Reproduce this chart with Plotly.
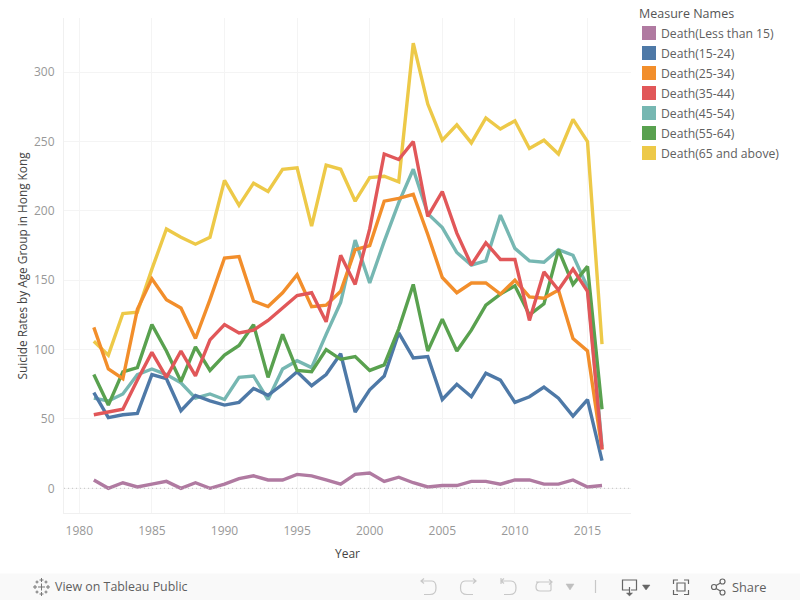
import plotly.graph_objects as go

years = list(range(1981, 2017))
under15 = [6,0,4,1,3,5,0,4,0,3,7,9,6,6,10,9,6,3,10,11,5,8,4,1,2,2,5,5,3,6,6,3,3,6,1,2]
age15_24 = [69,51,53,54,82,79,56,67,63,60,62,72,67,75,84,74,82,97,55,71,81,112,94,95,64,75,66,83,78,62,66,73,65,52,64,20]
age25_34 = [116,86,79,129,151,136,130,108,136,166,167,135,131,141,154,131,132,142,172,175,207,209,212,183,152,141,148,148,140,150,138,137,143,108,99,28]
age35_44 = [53,55,57,78,98,80,99,81,107,118,112,114,121,130,139,141,120,168,147,187,241,237,250,196,214,184,161,177,165,165,121,156,143,158,142,28]
age45_54 = [65,63,68,82,86,82,76,65,68,64,80,81,64,86,92,87,111,134,179,148,178,206,230,198,188,170,161,164,197,173,164,163,172,168,145,30]
age55_64 = [82,60,84,87,118,99,77,102,85,96,103,118,80,111,85,84,100,93,95,85,89,115,147,99,122,99,114,132,140,146,125,133,172,147,160,57]
age65_up = [106,96,126,127,158,187,181,176,181,222,204,220,214,230,231,189,233,230,207,224,225,221,321,277,251,262,249,267,259,265,245,251,241,266,250,104]

names = ["Death(Less than 15)","Death(15-24)","Death(25-34)","Death(35-44)","Death(45-54)","Death(55-64)","Death(65 and above)"]
series = [under15, age15_24, age25_34, age35_44, age45_54, age55_64, age65_up]
colors = ["#B07AA1","#4E79A7","#F28E2B","#E15759","#76B7B2","#59A14F","#EDC948"]
draw_order = [0,6,4,1,5,2,3]

W, H = 800, 600
L, R, T, B = 64, 631, 18, 513
FONT = "Open Sans"

def px(x): return x / W
def py(y): return 1 - y / H

def path(d, color, width=1.2, fill=None):
    out = []
    for tok in d.split():
        if "," in tok:
            a, b = tok.split(",")
            out.append(f"{px(float(a)):.5f},{py(float(b)):.5f}")
        else:
            out.append(tok)
    s = dict(type="path", xref="paper", yref="paper", path=" ".join(out),
             line=dict(color=color, width=width))
    if fill:
        s["fillcolor"] = fill
    return s

fig = go.Figure()
for i in draw_order:
    fig.add_trace(go.Scatter(x=years, y=series[i], mode="lines", name=names[i],
                             line=dict(color=colors[i], width=3.4, shape="linear"),
                             showlegend=False))

shapes = []
ann = []

def text(x, y, s, size=11, color="#555555", anchor="left", angle=0, font=FONT):
    ann.append(dict(xref="paper", yref="paper", x=px(x), y=py(y), text=s, showarrow=False,
                    xanchor=anchor, yanchor="middle", textangle=angle, borderpad=0, borderwidth=0,
                    font=dict(family=font, size=size, color=color)))

# zero line
shapes.append(dict(type="line", xref="paper", yref="y", x0=px(L), x1=px(R), y0=0, y1=0,
                   line=dict(color="#c4c4c4", width=1, dash="1px,3px")))

# legend
text(639, 14, "Measure Names", size=12.5, color="#555555")
for i, n in enumerate(names):
    y = 33 + 20 * i
    shapes.append(dict(type="rect", xref="paper", yref="paper", x0=px(642), x1=px(656),
                       y0=py(y - 7), y1=py(y + 7), fillcolor=colors[i], line=dict(width=0)))
    text(661, y + 0.5, n, size=12.2, color="#606060")

# axis titles
text(347, 553.5, "Year", size=12, color="#444444", anchor="center")
text(21, 265.5, "Suicide Rates by Age Group in Hong Kong", size=11.8, color="#444444", anchor="center", angle=-90)

# toolbar
shapes.append(dict(type="rect", xref="paper", yref="paper", x0=0, x1=1, y0=0, y1=py(573.5),
                   fillcolor="#F9F9F9", line=dict(width=0), layer="below"))
text(55, 586.5, "View on Tableau Public", size=12.4, color="#5f5f5f")
text(732, 586.5, "Share", size=12.8, color="#5f5f5f")

# logo
logo = [(41.5,587,3.5),(41.5,580,2),(41.5,594,2),(35,587,2),(48,587,2),(37,582,1.5),(46,582,1.5),(37,592,1.5),(46,592,1.5)]
for x, y, r in logo:
    shapes.append(path(f"M {x-r},{y} L {x+r},{y} M {x},{y-r} L {x},{y+r}", "#777777", 1))

G = "#c8c8c8"
D = "#666666"
shapes.append(path("M 421,581 L 432,581 Q 436,581 436,588 Q 436,594.5 430,594.5 L 424,594.5 M 424,578.5 L 421,581 L 424,583.5", G))
shapes.append(path("M 476,581 L 465,581 Q 460.5,581 460.5,588 Q 460.5,594.5 467,594.5 L 473,594.5 M 473,578.5 L 476,581 L 473,583.5", G))
shapes.append(path("M 501,578 L 501,584 M 501,581 L 511,581 Q 516,581 516,588 Q 516,594.5 510,594.5 L 504,594.5 M 504,578.5 L 501,581 L 504,583.5", G))
shapes.append(path("M 536,582 L 551,582 L 551,590 Q 551,591 549,591 L 540,591 Q 536,591 536,587 Q 536,582 540,582 M 549,579.5 L 552,582 L 549,584.5", G))
shapes.append(path("M 566,584 L 574,584 L 570,590 Z", "#c0c0c0", 0.5, "#c0c0c0"))
shapes.append(path("M 595.5,580 L 595.5,593", "#c8c8c8"))
shapes.append(path("M 629,590 L 622.5,590 L 622.5,580 L 636.5,580 L 636.5,590 L 631,590 M 629.5,587 L 629.5,594", D))
shapes.append(path("M 626.5,593 L 632.5,593 L 629.5,596 Z", D, 0.5, D))
shapes.append(path("M 642.5,585 L 650,585 L 646,590 Z", D, 0.5, D))
shapes.append(path("M 673.5,584 L 673.5,580 L 678,580 M 684,580 L 688.5,580 L 688.5,584 M 688.5,590 L 688.5,594.5 L 684,594.5 M 678,594.5 L 673.5,594.5 L 673.5,590", D))
shapes.append(path("M 677,583 L 685,583 L 685,591 L 677,591 Z", D))
shapes.append(dict(type="circle", xref="paper", yref="paper", x0=px(711.5), x1=px(716.5), y0=py(589.5), y1=py(584.5), line=dict(color=D, width=1.2)))
shapes.append(dict(type="circle", xref="paper", yref="paper", x0=px(720), x1=px(725), y0=py(584), y1=py(579), line=dict(color=D, width=1.2)))
shapes.append(dict(type="circle", xref="paper", yref="paper", x0=px(720), x1=px(725), y0=py(595), y1=py(590), line=dict(color=D, width=1.2)))
shapes.append(path("M 716,585.5 L 720.5,583 M 716,588.5 L 720.5,591", D))

tickfont = dict(family=FONT, size=12, color="#989898")
xr0 = 1980 + (L - 79.3) / 14.52
xr1 = 1980 + (R - 79.3) / 14.52
yr0 = (488.3 - B) / 1.387
yr1 = (488.3 - T) / 1.387

fig.update_layout(
    width=W, height=H, autosize=False,
    margin=dict(l=0, r=0, t=0, b=0),
    plot_bgcolor="white", paper_bgcolor="white",
    showlegend=False, shapes=shapes, annotations=ann,
    xaxis=dict(domain=[px(L), px(R)], range=[xr0, xr1], tickvals=[1980,1985,1990,1995,2000,2005,2010,2015],
               tickformat="d", showgrid=True, gridcolor="#F4F4F4", gridwidth=1, zeroline=False,
               ticks="outside", ticklen=7, tickcolor="rgba(0,0,0,0)", tickfont=tickfont,
               showline=True, linecolor="#F0F0F0", linewidth=1),
    yaxis=dict(domain=[py(B), py(T)], range=[yr0, yr1], tickvals=[0,50,100,150,200,250,300],
               showgrid=True, gridcolor="#F4F4F4", gridwidth=1, zeroline=False,
               ticks="outside", ticklen=6, tickcolor="rgba(0,0,0,0)", tickfont=tickfont,
               showline=True, linecolor="#F0F0F0", linewidth=1),
)

fig.write_html("out.html", post_script="document.body.style.margin='0';",
               config=dict(displayModeBar=False))
